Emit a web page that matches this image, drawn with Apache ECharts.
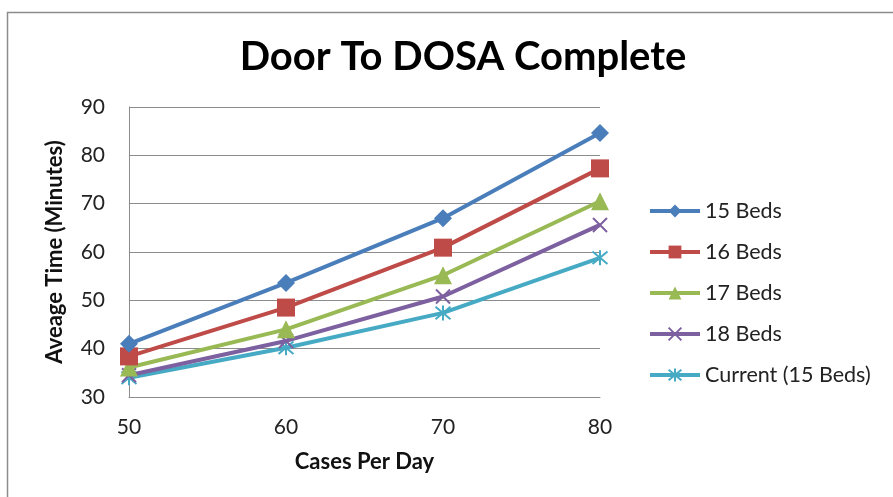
<!DOCTYPE html>
<html>
<head>
<meta charset="utf-8">
<script src="https://cdn.jsdelivr.net/npm/echarts@6/dist/echarts.min.js"></script>
<style>html,body{margin:0;padding:0;background:#fff}#c{width:893px;height:497px}</style>
</head>
<body>
<div id="c"></div>
<script>
const categories = [50, 60, 70, 80];
const yTicks = [30, 40, 50, 60, 70, 80, 90];
const beds15 = [41.0, 53.6, 67.0, 84.6];
const beds16 = [38.4, 48.5, 60.9, 77.3];
const beds17 = [36.1, 44.0, 55.2, 70.5];
const beds18 = [34.5, 41.6, 50.8, 65.6];
const current15 = [34.0, 40.2, 47.4, 58.8];
const seriesNames = ['15 Beds', '16 Beds', '17 Beds', '18 Beds', 'Current (15 Beds)'];

const colors = ['#4a7ebb', '#be4b48', '#98b954', '#7d60a0', '#46aac5'];
const FONT = 'Lato';
const xSym = 'path://M0,0L10,10M10,0L0,10';
const starSym = 'path://M0,0L10,10M10,0L0,10M5,-1L5,11';

function mk(name, data, i, symbol, size, stroke) {
  return {
    name: name, type: 'line',
    data: categories.map((c, k) => [c, data[k]]),
    symbol: symbol, symbolSize: size,
    lineStyle: { color: colors[i], width: 4 },
    itemStyle: stroke ? { color: colors[i], borderColor: colors[i], borderWidth: 2 } : { color: colors[i], borderWidth: 0 },
    emphasis: { disabled: true },
    z: 10 - i
  };
}

const chart = echarts.init(document.getElementById('c'), null, { renderer: 'canvas' });
chart.setOption({
  animation: false,
  backgroundColor: '#fff',
  title: {
    text: 'Door To DOSA Complete', left: 458, top: 32, textAlign: 'center',
    textStyle: { fontFamily: FONT, fontWeight: 'bold', fontSize: 40, color: '#000' }
  },
  graphic: [{
    type: 'rect', shape: { x: 7.5, y: 12.5, width: 1000, height: 600 },
    style: { fill: 'none', stroke: '#8c8c8c', lineWidth: 1.5 }, silent: true, z: -1
  }],
  grid: { left: 129, right: 293, top: 107, bottom: 100 },
  legend: {
    orient: 'vertical', left: 643, top: 195,
    itemWidth: 50, itemHeight: 16, itemGap: 19,
    lineStyle: { width: 4 },
    textStyle: { fontFamily: FONT, fontSize: 21.5, color: '#222', lineHeight: 22 },
    data: seriesNames
  },
  xAxis: {
    type: 'value', min: 50, max: 80, interval: 10,
    name: 'Cases Per Day', nameLocation: 'middle', nameGap: 54,
    nameTextStyle: { fontFamily: FONT, fontWeight: 'bold', fontSize: 22, color: '#111' },
    axisLine: { lineStyle: { color: '#8c8c8c', width: 1 } },
    axisTick: { show: false },
    splitLine: { show: false },
    axisLabel: { fontFamily: FONT, fontSize: 21, color: '#222', margin: 20 }
  },
  yAxis: {
    type: 'value', min: 30, max: 90, interval: 10,
    name: 'Aveage Time (Minutes)', nameLocation: 'middle', nameGap: 63, nameRotate: 90,
    nameTextStyle: { fontFamily: FONT, fontWeight: 'bold', fontSize: 22, color: '#111' },
    axisLine: { show: true, lineStyle: { color: '#8c8c8c', width: 1 } },
    axisTick: { show: false },
    splitLine: { lineStyle: { color: '#8c8c8c', width: 1 } },
    axisLabel: { fontFamily: FONT, fontSize: 21, color: '#222', margin: 24 }
  },
  series: [
    mk(seriesNames[0], beds15, 0, 'diamond', 18, false),
    mk(seriesNames[1], beds16, 1, 'rect', 18, false),
    mk(seriesNames[2], beds17, 2, 'triangle', 18, false),
    mk(seriesNames[3], beds18, 3, xSym, 14, true),
    mk(seriesNames[4], current15, 4, starSym, 15, true)
  ]
});
</script>
</body>
</html>
